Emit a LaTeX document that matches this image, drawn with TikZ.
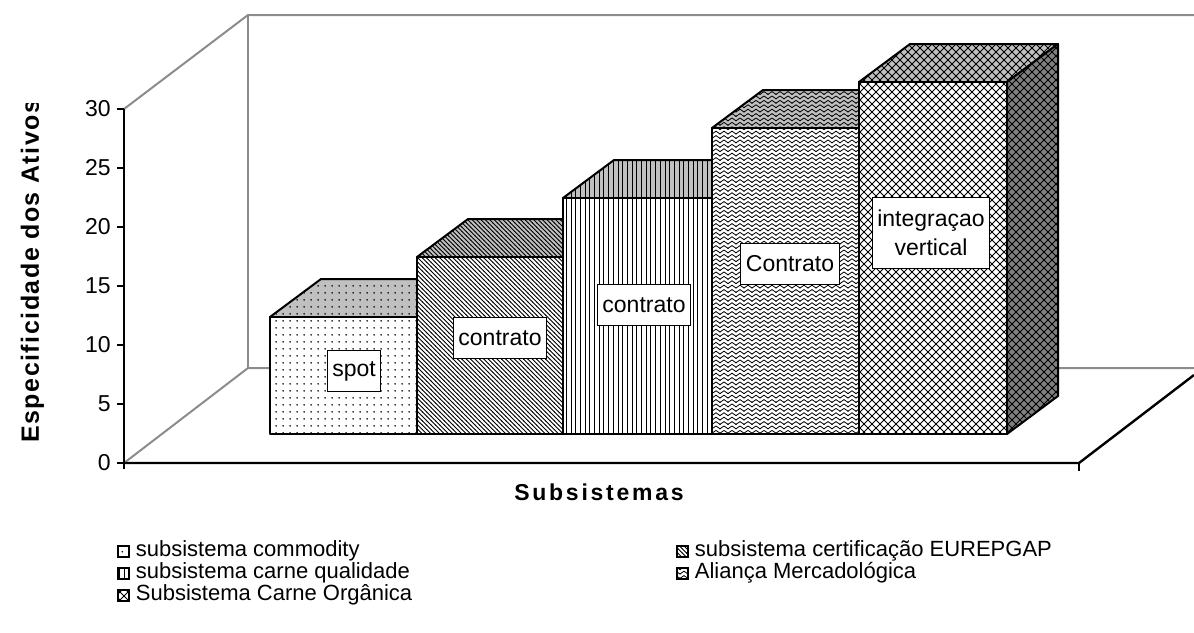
\documentclass[tikz,border=0pt]{standalone}
\usepackage{fontspec}
\setmainfont{Liberation Sans}
\newfontfamily\axisfont[LetterSpace=12]{Liberation Sans}
\newfontfamily\vaxisfont[LetterSpace=6]{Liberation Sans}
\usetikzlibrary{patterns,positioning}

\definecolor{wallgray}{HTML}{8C8C8C}
\definecolor{topgray}{HTML}{C0C0C0}
\definecolor{sidegray}{HTML}{808080}

% fill patterns of the bars
\pgfdeclarepatternformonly{fdots}{\pgfpointorigin}{\pgfpoint{3.5pt}{3.5pt}}{\pgfpoint{3.5pt}{3.5pt}}{%
  \pgfpathcircle{\pgfpoint{1.75pt}{1.75pt}}{0.5pt}\pgfusepath{fill}}
\pgfdeclarepatternformonly{fnwlines}{\pgfpoint{-0.2pt}{-0.2pt}}{\pgfpoint{2.4pt}{2.4pt}}{\pgfpoint{2.2pt}{2.2pt}}{%
  \pgfsetlinewidth{0.45pt}\pgfpathmoveto{\pgfpoint{-0.2pt}{2.4pt}}\pgfpathlineto{\pgfpoint{2.4pt}{-0.2pt}}\pgfusepath{stroke}}
\pgfdeclarepatternformonly{fvlines}{\pgfpoint{0pt}{-0.1pt}}{\pgfpoint{2.35pt}{2.1pt}}{\pgfpoint{2.35pt}{2pt}}{%
  \pgfsetlinewidth{0.5pt}\pgfpathmoveto{\pgfpoint{1.17pt}{-0.1pt}}\pgfpathlineto{\pgfpoint{1.17pt}{2.1pt}}\pgfusepath{stroke}}
\pgfdeclarepatternformonly{fzigzag}{\pgfpoint{-0.3pt}{0pt}}{\pgfpoint{4.3pt}{2.2pt}}{\pgfpoint{4pt}{2.2pt}}{%
  \pgfsetlinewidth{0.4pt}\pgfpathmoveto{\pgfpoint{-0.3pt}{0.6pt}}\pgfpathlineto{\pgfpoint{0pt}{0.4pt}}%
  \pgfpathlineto{\pgfpoint{2pt}{1.8pt}}\pgfpathlineto{\pgfpoint{4pt}{0.4pt}}\pgfpathlineto{\pgfpoint{4.3pt}{0.6pt}}\pgfusepath{stroke}}
\pgfdeclarepatternformonly{fcross}{\pgfpoint{-0.2pt}{-0.2pt}}{\pgfpoint{4.2pt}{4.2pt}}{\pgfpoint{4pt}{4pt}}{%
  \pgfsetlinewidth{0.4pt}\pgfpathmoveto{\pgfpoint{0pt}{0pt}}\pgfpathlineto{\pgfpoint{4pt}{4pt}}%
  \pgfpathmoveto{\pgfpoint{0pt}{4pt}}\pgfpathlineto{\pgfpoint{4pt}{0pt}}\pgfusepath{stroke}}

\begin{document}
\begin{tikzpicture}[x=0.5pt,y=-0.5pt,
    wall/.style={draw=wallgray,line width=1pt},
    floor/.style={draw=black,line width=1.2pt},
    barfront/.style={draw,line width=1pt,line join=round,preaction={fill=white},preaction={pattern=#1}},
    bartop/.style={draw,line width=1pt,line join=round,preaction={fill=topgray},preaction={pattern=#1}},
    barside/.style={draw,line width=1pt,line join=round,preaction={fill=sidegray},preaction={pattern=#1}},
    barlabel/.style={draw,fill=white,line width=0.5pt,inner xsep=2.5pt,inner ysep=0pt,minimum height=20.5pt,align=center,font=\fontsize{11.5}{14.5}\selectfont},
    ticklabel/.style={anchor=east,inner sep=0pt,font=\fontsize{11.5}{13}\selectfont},
    legkey/.style={draw,line width=1pt,minimum size=5.5pt,inner sep=0pt,preaction={fill=white},pattern=#1},
    legtext/.style={anchor=west,inner sep=0pt,font=\fontsize{11}{13}\selectfont}]
    \useasboundingbox (0,0) rectangle (1194,632);

    \coordinate (f0) at (124,463);   % corners of the walls
    \coordinate (f30) at (124,109);
    \coordinate (b0) at (248,368);
    \coordinate (b30) at (248,15);
    \coordinate (fr) at (1079,463);

    \draw[wall] (f30) -- (b30) -- (1194,15);   % back walls
    \draw[wall] (f0) -- (b0) -- (1194,368);
    \draw[wall] (b0) -- (b30);

    \draw[floor] (f0) -- (fr) -- (1194,375);   % floor
    \draw[line width=0.8pt] (fr) -- ++(0,8);
    \draw[line width=1pt] (124,469) -- (f30);  % value axis

    \foreach \v in {0,5,...,30}{
        \draw[line width=0.8pt] (117,{463-11.8*\v}) -- (124,{463-11.8*\v});
        \node[ticklabel] at (111,{463-11.8*\v}) {\v};
    }

    \foreach \xl/\xr/\yt/\pat in {270/417/317/fdots, 417/563/257/fnwlines, 563/712/198/fvlines, 712/859/128/fzigzag, 859/1007/82/fcross}{
        \draw[bartop=\pat] (\xl,\yt) -- ++(51,-38) -- (\xr+51,\yt-38) -- (\xr,\yt) -- cycle;
        \draw[barfront=\pat] (\xl,434) rectangle (\xr,\yt);
    }
    \draw[barside=fcross] (1007,434) -- (1007,82) -- ++(51,-38) -- (1058,396) -- cycle;

    \node[barlabel] (lspot) at (354,371) {spot};   % bar labels
    \node[barlabel] (lcontr2) at (500,338) {contrato};
    \node[barlabel] (lcontr3) at (644,305) {contrato};
    \node[barlabel] (lcontr4) at (790,264) {Contrato};
    \node[barlabel,minimum height=35.5pt] (lvert) at (931,233) {integraçao\\vertical};

    \begin{scope}   % axis titles
        \clip (0,103) rectangle (70,632);
        \node[rotate=90,anchor=base west,inner sep=0pt,font=\vaxisfont\bfseries\fontsize{12.5}{15}\selectfont] (ytitle) at (39,443) {Especificidade dos Ativos};
    \end{scope}
    \node[inner sep=0pt,font=\axisfont\bfseries\fontsize{11.5}{13}\selectfont] (xtitle) at (599,492) {Subsistemas};

    \node[legkey=fdots] (k1) at (123,551) {};   % legend
    \node[legtext,right=3pt of k1] (t1) {subsistema commodity};
    \node[legkey=fvlines] (k3) at (123,573) {};
    \node[legtext,right=3pt of k3] (t3) {subsistema carne qualidade};
    \node[legkey=fcross] (k5) at (123,595) {};
    \node[legtext,right=3pt of k5] (t5) {Subsistema Carne Orgânica};
    \node[legkey=fnwlines] (k2) at (682,551) {};
    \node[legtext,right=3pt of k2] (t2) {subsistema certificação EUREPGAP};
    \node[legkey=fzigzag] (k4) at (682,573) {};
    \node[legtext,right=3pt of k4] (t4) {Aliança Mercadológica};
\end{tikzpicture}
\end{document}
